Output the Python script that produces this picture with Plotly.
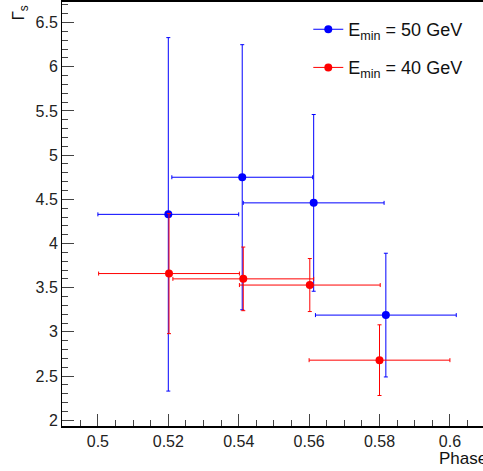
import plotly.graph_objects as go

# Data (E_min = 50 GeV, blue)
phase_50 = [0.520, 0.541, 0.5613, 0.5818]
phase_err_50 = [0.020, 0.020, 0.020, 0.020]
gamma_50 = [4.33, 4.75, 4.46, 3.19]
gamma_err_50 = [2.00, 1.50, 1.00, 0.70]

# Data (E_min = 40 GeV, red)
phase_40 = [0.5202, 0.5413, 0.5602, 0.580]
phase_err_40 = [0.020, 0.020, 0.020, 0.020]
gamma_40 = [3.66, 3.60, 3.53, 2.68]
gamma_err_40 = [0.68, 0.36, 0.30, 0.40]

label_50 = "E<sub>min</sub> = 50 GeV"
label_40 = "E<sub>min</sub> = 40 GeV"

FONT = "Liberation Sans, Arial, Helvetica, sans-serif"

fig = go.Figure()


def add_series(x, xe, y, ye, color, name, legend):
    fig.add_trace(go.Scatter(
        x=x, y=y, mode="markers",
        marker=dict(color=color, size=8, symbol="circle"),
        error_x=dict(type="data", array=xe, color=color, thickness=1, width=2),
        error_y=dict(type="data", array=ye, color=color, thickness=1, width=2),
        showlegend=False, hoverinfo="x+y",
    ))
    fig.add_trace(go.Scatter(
        x=[None], y=[None], mode="lines+markers", name=name,
        line=dict(color=color, width=1),
        marker=dict(color=color, size=8),
        legend=legend, showlegend=True,
    ))


add_series(phase_50, phase_err_50, gamma_50, gamma_err_50, "#0000ff", label_50, "legend")
add_series(phase_40, phase_err_40, gamma_40, gamma_err_40, "#ff0000", label_40, "legend2")

axis_common = dict(
    showgrid=False, zeroline=False, showline=True, linecolor="black",
    automargin=False,
    ticks="inside", tickcolor="#444", tickfont=dict(family=FONT, size=16, color="#222"),
)

fig.update_xaxes(
    range=[0.4898, 0.6094], dtick=0.02, tick0=0.5, ticklen=12, tickwidth=1,
    linewidth=2, mirror=True,
    minor=dict(ticks="inside", dtick=0.005, tick0=0.5, ticklen=6, tickcolor="#444"),
    **axis_common,
)
fig.update_yaxes(
    range=[1.935, 6.733], dtick=0.5, tick0=2, ticklen=12, tickwidth=1,
    linewidth=1,
    minor=dict(ticks="inside", dtick=0.1, tick0=2, ticklen=6, tickcolor="#444"),
    **axis_common,
)

leg_common = dict(
    font=dict(family=FONT, size=18, color="#111"),
    bgcolor="rgba(0,0,0,0)", xanchor="left", yanchor="middle",
)

fig.update_layout(
    width=483, height=471,
    margin=dict(l=62, r=0, t=2, b=45, autoexpand=False),
    plot_bgcolor="white", paper_bgcolor="white",
    legend=dict(x=0.585, y=0.935, **leg_common),
    legend2=dict(x=0.585, y=0.845, **leg_common),
    annotations=[
        dict(text="Γ<sub>s</sub>", textangle=-90, xref="paper", yref="paper",
             x=-0.1, y=0.975, showarrow=False,
             font=dict(family=FONT, size=17, color="#111"),
             xanchor="center", yanchor="middle"),
        dict(text="Phase", xref="paper", yref="paper",
             x=0.8907, y=-0.077, showarrow=False,
             font=dict(family=FONT, size=17, color="#111"),
             xanchor="left", yanchor="middle"),
    ],
)

fig.write_html(
    "out.html",
    config={"displayModeBar": False},
    post_script="document.body.style.margin='0';document.body.style.padding='0';",
)
